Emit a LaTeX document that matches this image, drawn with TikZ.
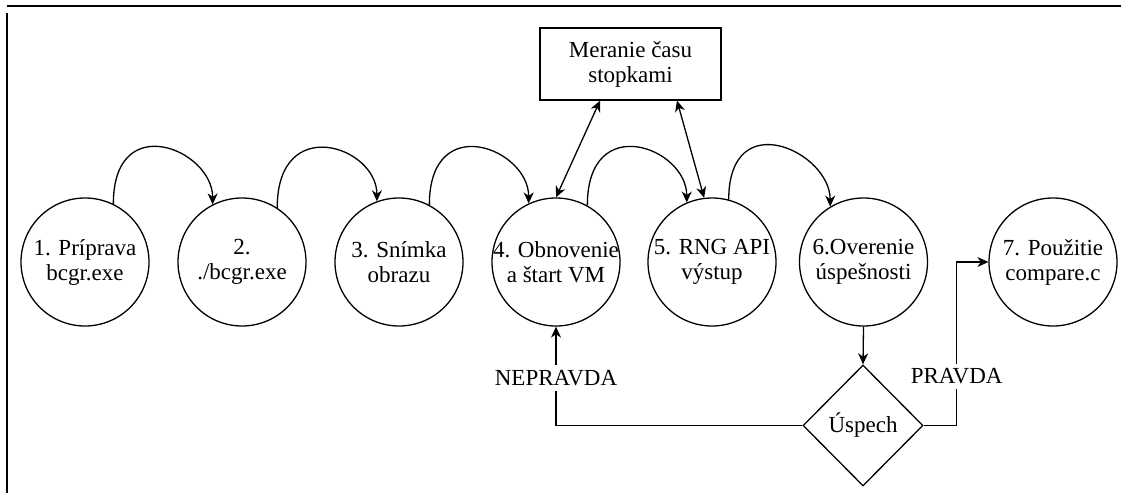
\documentclass[tikz,border=0pt]{standalone}
\usepackage{fontspec}
\setmainfont{Liberation Serif}
\usetikzlibrary{shapes.geometric,arrows.meta,calc}
\begin{document}
\begin{tikzpicture}[x=1pt,y=-1pt,
  line width=1.3pt,
  every node/.style={font=\fontsize{23}{25}\selectfont},
  stepcircle/.style={circle,draw,minimum size=128pt,inner sep=0pt},
  inlabel/.style={align=center,inner sep=0pt},
  boxnode/.style={rectangle,draw,minimum width=181pt,minimum height=72pt,align=center,inner sep=0pt},
  decision/.style={diamond,draw,aspect=1,minimum width=120pt,minimum height=121pt,inner sep=0pt},
  arr/.style={-{Stealth[length=11pt,width=10pt,inset=3.5pt]}},
  darr/.style={{Stealth[length=11pt,width=10pt,inset=3.5pt]}-{Stealth[length=11pt,width=10pt,inset=3.5pt]}},
  lbl/.style={fill=white,inner xsep=2pt,inner ysep=5pt},
  frame/.style={line width=1.8pt}
]
\useasboundingbox (0,0) rectangle (1121,493);
\draw[frame] (7,6) -- (1121,6);
\draw[frame] (7,13) -- (7,493);

\node[stepcircle,label={[inlabel]center:1. Príprava\\bcgr.exe}] (c1) at (85,262) {};
\node[stepcircle,label={[inlabel]center:2.\\./bcgr.exe}] (c2) at (242,262) {};
\node[stepcircle,label={[inlabel]center:3. Snímka\\obrazu}] (c3) at (399,262) {};
\node[stepcircle,label={[inlabel]center:4. Obnovenie\\a štart VM}] (c4) at (556,262) {};
\node[stepcircle,label={[inlabel]center:5. RNG API\\výstup}] (c5) at (712,262) {};
\node[stepcircle,label={[inlabel]center:6.Overenie\\úspešnosti}] (c6) at (863.5,262) {};
\node[stepcircle,label={[inlabel]center:7. Použitie\\compare.c}] (c7) at (1053,262) {};

\node[boxnode] (box) at (630.5,64) {Meranie času\\stopkami};
\node[decision] (dia) at (863,425.5) {Úspech};

\draw[arr] (c1.64) .. controls +(0,-95) and +(0,-55) .. (c2.117);
\draw[arr] (c2.57) .. controls +(0,-95) and +(0,-55) .. (c3.110);
\draw[arr] (c3.62) .. controls +(0,-95) and +(0,-55) .. (c4.115);
\draw[arr] (c4.61) .. controls +(0,-95) and +(0,-55) .. (c5.113);
\draw[arr] (c5.75) .. controls +(0,-95) and +(0,-55) .. (c6.121);

\draw[darr] ($(box.south)+(-30.5,0)$) -- (c4.90);
\draw[darr] ($(box.south)+(46.5,0)$) -- (c5.97);

\draw[arr] (c6.south) -- (dia.north);
\draw[arr] (dia.west) -| node[lbl,pos=0.74]{NEPRAVDA} (c4.south);
\draw[arr] (dia.east) -- ++(33,0) |- node[lbl,pos=0.15]{PRAVDA} (c7.west);
\end{tikzpicture}
\end{document}
